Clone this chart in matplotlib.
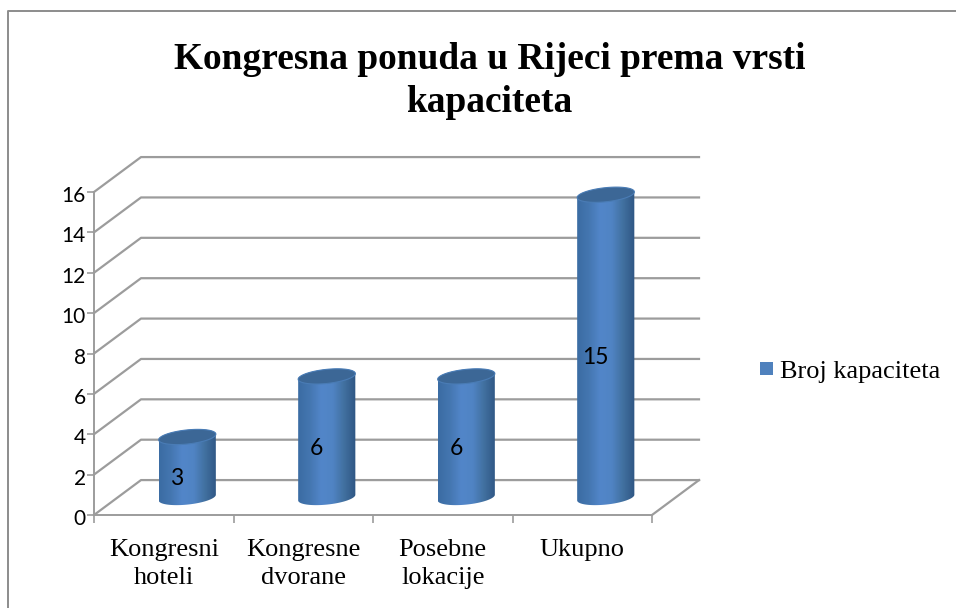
import numpy as np
import matplotlib
matplotlib.use('Agg')
import matplotlib.pyplot as plt
from matplotlib.colors import LinearSegmentedColormap
from matplotlib.patches import Polygon, Rectangle
from matplotlib.transforms import ScaledTranslation

categories = ['Kongresni\nhoteli', 'Kongresne\ndvorane', 'Posebne\nlokacije', 'Ukupno']
values = [3, 6, 6, 15]
series_name = 'Broj kapaciteta'
title = 'Kongresna ponuda u Rijeci prema vrsti\nkapaciteta'
yticks = list(range(0, 17, 2))

W, H = 956, 608
GRID = '#9c9c9c'
SERIF = 'Liberation Serif'

# depth of the fake 3d box, in data units
dx = 0.337
dy = 1.73
# cylinder radius and tilt of the ellipses, in data units
rx = 0.205
ry = 0.35
tilt = 0.14

fig = plt.figure(figsize=(W / 100, H / 100), dpi=100)
ax = fig.add_axes([94 / W, 1 - 515 / H, (652 - 94) / W, (515 - 192) / H])
ax.set_xlim(0, 4)
ax.set_ylim(0, 16)
ax.patch.set_visible(False)

for s in ['top', 'right']:
    ax.spines[s].set_visible(False)
for s in ['left', 'bottom']:
    ax.spines[s].set_color(GRID)
    ax.spines[s].set_linewidth(1.4)

ax.set_yticks(yticks)
ax.set_xticks(range(5))
ax.set_xticklabels([])
ax.set_xticks(np.arange(len(categories)) + 0.5, minor=True)
ax.set_xticklabels(categories, minor=True, fontfamily=SERIF, fontsize=19, linespacing=1.4)
ax.tick_params(axis='y', length=5, width=1.2, color=GRID, labelsize=15, pad=1)
ax.tick_params(axis='x', which='major', length=6, width=1.2, color=GRID)
ax.tick_params(axis='x', which='minor', length=0, pad=17)
shift = ScaledTranslation(0, -2 / 100, fig.dpi_scale_trans)
for t in ax.get_yticklabels():
    t.set_fontfamily('Lato')
    t.set_transform(t.get_transform() + shift)

# walls and floor
for v in yticks:
    ax.plot([0, dx, 4 + dx], [v, v + dy, v + dy], color=GRID, lw=1.6, clip_on=False, zorder=1)
ax.plot([4, 4 + dx], [0, dy], color=GRID, lw=1.6, clip_on=False, zorder=1)

body_cmap = LinearSegmentedColormap.from_list(
    'body', ['#3b6ca3', '#4476b0', '#5286c9', '#5084c4', '#41709f', '#2f5684'])
t = np.linspace(0, 2 * np.pi, 120)
grad = np.linspace(0, 1, 200).reshape(1, -1)

for i, v in enumerate(values):
    cx = i + 0.5 + dx / 2
    base = dy / 2
    top = v + dy / 2
    ex = rx * np.cos(t)
    ey = ry * np.sin(t) + tilt * np.cos(t)

    # outline of the body: lower half of the base ellipse, upper half of the top one
    low = np.sin(t) <= 0
    lower = np.column_stack([cx + ex[low], base + ey[low]])
    lower = lower[np.argsort(lower[:, 0])]
    upper = np.column_stack([cx + ex[~low], top + ey[~low]])
    upper = upper[np.argsort(-upper[:, 0])]
    outline = Polygon(np.vstack([lower, upper]), closed=True, transform=ax.transData,
                      fc='none', ec='none')
    ax.add_patch(outline)

    im = ax.imshow(grad, cmap=body_cmap, aspect='auto', zorder=3,
                   extent=[cx - rx, cx + rx, 0, top + ry + tilt])
    im.set_clip_path(outline)

    ax.add_patch(Polygon(np.column_stack([cx + ex, top + ey]), closed=True,
                         fc='#3c6796', ec='#4a7cb5', lw=0.8, zorder=4, clip_on=False))
    ax.text(i + 0.595, v / 2 + 0.3, str(v), ha='center', va='center',
            fontsize=16.5, fontfamily='Lato', color='black', zorder=5)

# imshow resets the limits
ax.set_xlim(0, 4)
ax.set_ylim(0, 16)

# legend
fig.patches.append(Rectangle((760 / W, 1 - 375 / H), 13 / W, 13 / H, transform=fig.transFigure,
                             fc='#4f81bd', ec='none'))
fig.text(780 / W, 1 - 372 / H, series_name, ha='left', va='center',
         fontfamily=SERIF, fontsize=19)

fig.text(489.5 / W, 1 - 81 / H, title, ha='center', va='center', multialignment='center',
         fontfamily=SERIF, fontweight='bold', fontsize=26.9, linespacing=1.3)

# chart frame, cut off at the right and bottom
fig.add_artist(plt.Line2D([8 / W, 8 / W, 1], [0, 1 - 11 / H, 1 - 11 / H], color='#8c8c8c', lw=1.4))

fig.savefig('out.png', dpi=100)
